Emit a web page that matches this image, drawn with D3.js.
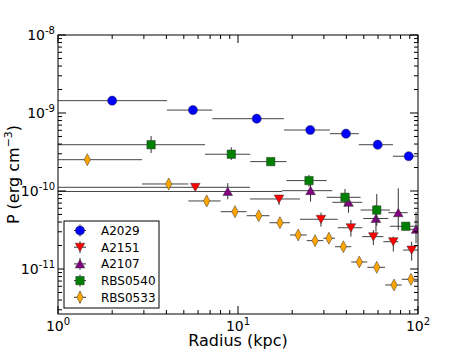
<!DOCTYPE html>
<html>
<head>
<meta charset="utf-8">
<script src="https://cdn.jsdelivr.net/npm/d3@7"></script>
<style>
  body { margin: 0; background: #fff; }
  text { font-family: "DejaVu Sans", sans-serif; fill: #000; }
</style>
</head>
<body>
<div id="chart"></div>
<script>
// rows: [radius, radiusLo, radiusHi, P, PLo, PHi]
var a2029 = [
  [2.00, 0.3, 4.03, 1.44e-9, 1.38e-9, 1.50e-9],
  [5.62, 4.03, 7.20, 1.09e-9, 1.02e-9, 1.17e-9],
  [12.7, 7.20, 18.0, 8.45e-10, 8.15e-10, 8.75e-10],
  [25.2, 18.0, 32.4, 6.05e-10, 5.85e-10, 6.25e-10],
  [39.8, 32.4, 46.9, 5.43e-10, 5.20e-10, 5.65e-10],
  [59.7, 46.9, 72.6, 3.92e-10, 3.78e-10, 4.06e-10],
  [88.8, 72.6, 108, 2.79e-10, 2.69e-10, 2.90e-10]
];
var a2151 = [
  [5.79, 0.3, 11.66, 1.115e-10, 1.06e-10, 1.17e-10],
  [16.9, 11.66, 22.1, 7.9e-11, 6.62e-11, 8.89e-11],
  [28.9, 22.1, 35.8, 4.34e-11, 3.49e-11, 5.27e-11],
  [42.4, 35.8, 49.0, 3.38e-11, 2.6e-11, 4.25e-11],
  [56.5, 49.0, 64.2, 2.6e-11, 2.03e-11, 3.16e-11],
  [72.9, 64.2, 77.7, 2.24e-11, 1.67e-11, 2.6e-11],
  [92.2, 82.5, 110, 1.75e-11, 1.28e-11, 2.24e-11]
];
var a2107 = [
  [8.77, 0.3, 17.6, 9.86e-11, 7.83e-11, 1.26e-10],
  [25.3, 17.6, 33.4, 1.01e-10, 7.3e-11, 1.23e-10],
  [41.1, 33.4, 49.0, 7.16e-11, 5.27e-11, 9.35e-11],
  [58.4, 49.7, 68.4, 4.44e-11, 3.0e-11, 6.62e-11],
  [77.7, 68.4, 87.7, 5.27e-11, 3.16e-11, 1.08e-10],
  [97.5, 87.7, 110, 3.23e-11, 2.14e-11, 5.43e-11]
];
var rbs0540 = [
  [3.29, 0.3, 6.56, 3.92e-10, 3.07e-10, 5.07e-10],
  [9.18, 6.56, 11.7, 2.96e-10, 2.5e-10, 3.63e-10],
  [15.2, 11.7, 18.6, 2.38e-10, 2.25e-10, 2.52e-10],
  [24.8, 18.6, 31.1, 1.36e-10, 1.135e-10, 1.6e-10],
  [39.3, 31.1, 48.0, 8.3e-11, 6.3e-11, 1.06e-10],
  [59.0, 48.0, 69.9, 5.7e-11, 3.56e-11, 9.16e-11],
  [85.5, 69.9, 110, 3.53e-11, 3.2e-11, 3.9e-11]
];
var rbs0533 = [
  [1.455, 0.3, 2.93, 2.52e-10, 2.40e-10, 2.65e-10],
  [4.12, 2.93, 5.30, 1.23e-10, 1.17e-10, 1.29e-10],
  [6.70, 5.30, 8.01, 7.45e-11, 7.1e-11, 7.8e-11],
  [9.62, 8.01, 11.17, 5.43e-11, 5.17e-11, 5.7e-11],
  [13.03, 11.17, 14.96, 4.82e-11, 4.6e-11, 5.05e-11],
  [17.1, 14.96, 19.45, 3.92e-11, 3.73e-11, 4.12e-11],
  [21.6, 19.45, 24.1, 2.73e-11, 2.6e-11, 2.87e-11],
  [26.8, 24.1, 29.8, 2.31e-11, 2.2e-11, 2.43e-11],
  [32.0, 29.8, 34.6, 2.48e-11, 2.36e-11, 2.6e-11],
  [38.5, 34.6, 42.6, 1.93e-11, 1.84e-11, 2.03e-11],
  [47.2, 42.6, 52.3, 1.23e-11, 1.17e-11, 1.29e-11],
  [59.0, 52.3, 65.6, 1.05e-11, 1.0e-11, 1.1e-11],
  [73.6, 65.6, 81.2, 6.24e-12, 5.94e-12, 6.55e-12],
  [91.4, 81.2, 100.4, 7.38e-12, 7.03e-12, 7.75e-12]
];

var seriesNames = ["A2029", "A2151", "A2107", "RBS0540", "RBS0533"];
var seriesData = [a2029, a2151, a2107, rbs0540, rbs0533];
var seriesColors = ["#0000ff", "#ff0000", "#800080", "#008000", "#ffa500"];
var seriesShapes = ["circle", "tridown", "triup", "square", "thindiamond"];

var xTicks = [1, 10, 100];
var yTicks = [1e-11, 1e-10, 1e-9, 1e-8];

var width = 465, height = 349;
var margin = { top: 35, right: 47, bottom: 35, left: 58 };

var svg = d3.select("#chart")
  .append("svg")
  .attr("width", width)
  .attr("height", height);

var xScale = d3.scaleLog()
  .domain([1, 100])
  .range([margin.left, width - margin.right]);

var yScale = d3.scaleLog()
  .domain([Math.pow(10, -11.577), 1e-8])
  .range([height - margin.bottom, margin.top]);

var x0 = margin.left, x1 = width - margin.right;
var y0 = margin.top, y1 = height - margin.bottom;

svg.append("clipPath")
  .attr("id", "plotclip")
  .append("rect")
  .attr("x", x0).attr("y", y0)
  .attr("width", x1 - x0).attr("height", y1 - y0);

function markerPath(shape) {
  switch (shape) {
    case "circle":
      return d3.symbol().type(d3.symbolCircle).size(Math.PI * 4.6 * 4.6)();
    case "tridown":
      return "M-4.8,-4L4.8,-4L0,4.3Z";
    case "triup":
      return "M-4.8,4L4.8,4L0,-4.3Z";
    case "square":
      return "M-4.2,-4.2L4.2,-4.2L4.2,4.2L-4.2,4.2Z";
    case "thindiamond":
      return "M0,-6L3.2,0L0,6L-3.2,0Z";
  }
}

var plot = svg.append("g").attr("clip-path", "url(#plotclip)");

seriesData.forEach(function(data, k) {
  var g = plot.append("g").attr("class", "series");

  // horizontal error bars
  g.selectAll(".xerr")
    .data(data)
    .enter().append("line")
    .attr("x1", function(d) { return xScale(d[1]); })
    .attr("x2", function(d) { return xScale(d[2]); })
    .attr("y1", function(d) { return yScale(d[3]); })
    .attr("y2", function(d) { return yScale(d[3]); })
    .attr("stroke", "#444")
    .attr("stroke-width", 1);

  // vertical error bars
  g.selectAll(".yerr")
    .data(data)
    .enter().append("line")
    .attr("x1", function(d) { return xScale(d[0]); })
    .attr("x2", function(d) { return xScale(d[0]); })
    .attr("y1", function(d) { return yScale(d[4]); })
    .attr("y2", function(d) { return yScale(d[5]); })
    .attr("stroke", "#333")
    .attr("stroke-width", 1);

  g.selectAll(".mark")
    .data(data)
    .enter().append("path")
    .attr("d", markerPath(seriesShapes[k]))
    .attr("transform", function(d) {
      return "translate(" + xScale(d[0]) + "," + yScale(d[3]) + ")";
    })
    .attr("fill", seriesColors[k])
    .attr("stroke", "#333")
    .attr("stroke-width", 0.5);
});

// frame
svg.append("rect")
  .attr("x", x0).attr("y", y0)
  .attr("width", x1 - x0).attr("height", y1 - y0)
  .attr("fill", "none")
  .attr("stroke", "#000")
  .attr("stroke-width", 1);

// ticks (inward, all four sides)
var ticks = svg.append("g").attr("stroke", "#000").attr("stroke-width", 1);

function minorLog(lo, hi) {
  var out = [];
  for (var e = lo; e < hi; e++) {
    for (var m = 2; m <= 9; m++) out.push(m * Math.pow(10, e));
  }
  return out;
}

var xMinor = minorLog(0, 2);
var yMinor = minorLog(-12, -8).filter(function(v) {
  return v >= yScale.domain()[0] && v <= 1e-8;
});

function drawXTicks(vals, len) {
  vals.forEach(function(v) {
    var x = xScale(v);
    ticks.append("line").attr("x1", x).attr("x2", x).attr("y1", y1).attr("y2", y1 - len);
    ticks.append("line").attr("x1", x).attr("x2", x).attr("y1", y0).attr("y2", y0 + len);
  });
}
function drawYTicks(vals, len) {
  vals.forEach(function(v) {
    var y = yScale(v);
    ticks.append("line").attr("x1", x0).attr("x2", x0 + len).attr("y1", y).attr("y2", y);
    ticks.append("line").attr("x1", x1).attr("x2", x1 - len).attr("y1", y).attr("y2", y);
  });
}
drawXTicks(xTicks, 8);
drawXTicks(xMinor, 4);
drawYTicks(yTicks.filter(function(v) { return v >= yScale.domain()[0]; }), 8);
drawYTicks(yMinor, 4);

// tick labels with exponents
xTicks.forEach(function(v) {
  var t = svg.append("text")
    .attr("x", xScale(v))
    .attr("y", y1 + 16.5)
    .attr("text-anchor", "middle")
    .style("font-size", "14px");
  t.append("tspan").text("10");
  t.append("tspan")
    .attr("dy", -6)
    .style("font-size", "10px")
    .text(Math.round(Math.log10(v)));
});

yTicks.forEach(function(v) {
  var t = svg.append("text")
    .attr("x", x0 - 3)
    .attr("y", yScale(v) + 5)
    .attr("text-anchor", "end")
    .style("font-size", "14px");
  t.append("tspan").text("10");
  t.append("tspan")
    .attr("dy", -6)
    .style("font-size", "10px")
    .text(Math.round(Math.log10(v)));
});

// axis labels
svg.append("text")
  .attr("x", (x0 + x1) / 2)
  .attr("y", 345.5)
  .attr("text-anchor", "middle")
  .style("font-size", "16px")
  .text("Radius (kpc)");

var yl = svg.append("text")
  .attr("transform", "translate(19," + ((y0 + y1) / 2) + ") rotate(-90)")
  .attr("text-anchor", "middle")
  .style("font-size", "16px");
yl.append("tspan").text("P (erg cm");
yl.append("tspan").attr("dy", -7).style("font-size", "11px").text("\u22123");
yl.append("tspan").attr("dy", 7).text(")");

// legend
var legend = svg.append("g").attr("transform", "translate(64,221)");
legend.append("rect")
  .attr("width", 95).attr("height", 87)
  .attr("fill", "#fff")
  .attr("stroke", "#000")
  .attr("stroke-width", 1);

seriesNames.forEach(function(name, k) {
  var cy = 9.5 + k * 16.7;
  var item = legend.append("g").attr("transform", "translate(16," + cy + ")");
  item.append("line").attr("x1", -6).attr("x2", 6).attr("y1", 0).attr("y2", 0)
    .attr("stroke", "#333").attr("stroke-width", 1);
  item.append("line").attr("x1", 0).attr("x2", 0).attr("y1", -6).attr("y2", 6)
    .attr("stroke", "#333").attr("stroke-width", 1);
  item.append("path")
    .attr("d", markerPath(seriesShapes[k]))
    .attr("fill", seriesColors[k])
    .attr("stroke", "#333")
    .attr("stroke-width", 0.5);
  legend.append("text")
    .attr("x", 37)
    .attr("y", cy + 4.5)
    .style("font-size", "12px")
    .text(name);
});
</script>
</body>
</html>
